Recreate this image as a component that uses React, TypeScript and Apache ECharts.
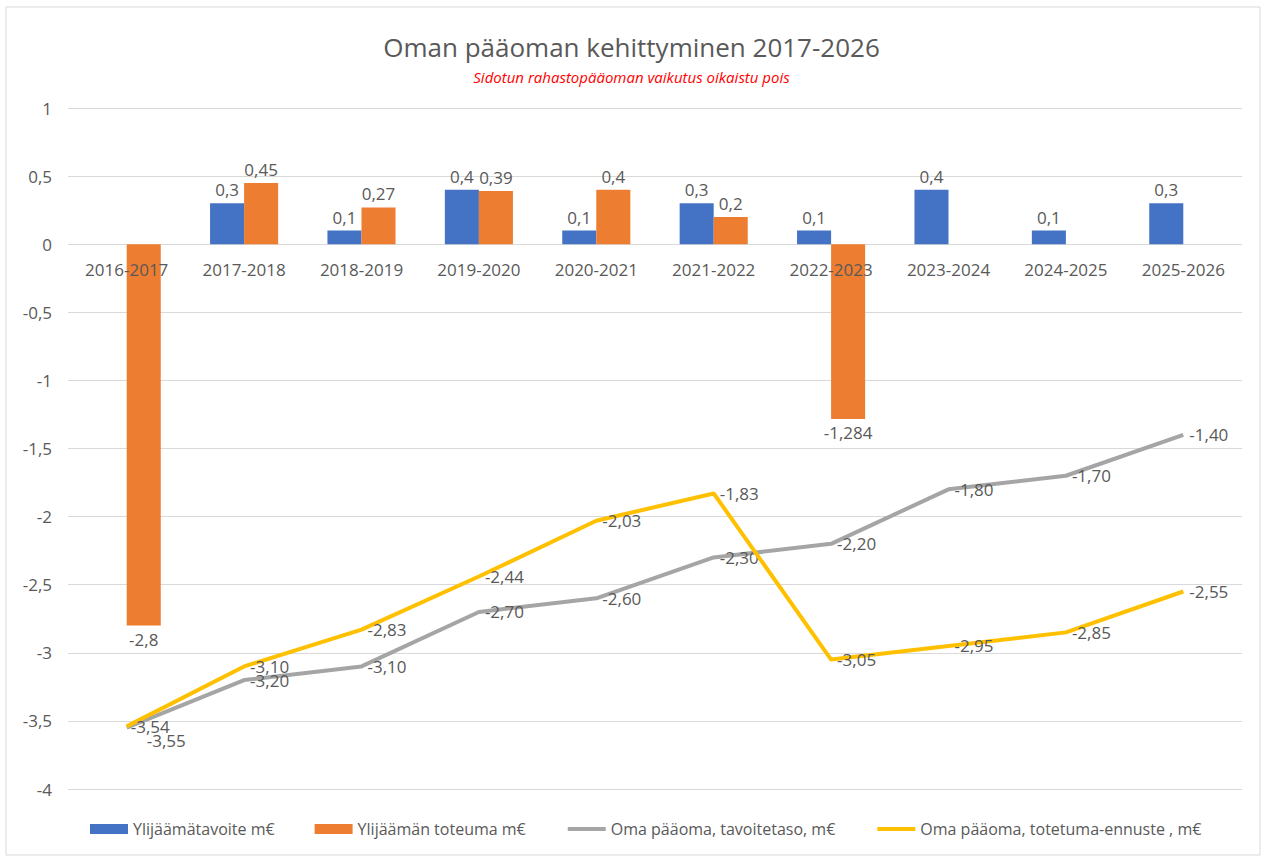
import React, { useEffect, useRef } from "react";
import * as echarts from "echarts";

const categories = [
  "2016-2017", "2017-2018", "2018-2019", "2019-2020", "2020-2021",
  "2021-2022", "2022-2023", "2023-2024", "2024-2025", "2025-2026",
];
const targetSurplus: (number | null)[] = [null, 0.3, 0.1, 0.4, 0.1, 0.3, 0.1, 0.4, 0.1, 0.3];
const actualSurplus: (number | null)[] = [-2.8, 0.45, 0.27, 0.39, 0.4, 0.2, -1.284, null, null, null];
const equityTarget = [-3.55, -3.2, -3.1, -2.7, -2.6, -2.3, -2.2, -1.8, -1.7, -1.4];
const equityForecast = [-3.54, -3.1, -2.83, -2.44, -2.03, -1.83, -3.05, -2.95, -2.85, -2.55];
const categoryLabelBase = categories.map(() => 0);

const seriesNames = [
  "Ylijäämätavoite m€",
  "Ylijäämän toteuma m€",
  "Oma pääoma, tavoitetaso, m€",
  "Oma pääoma, totetuma-ennuste , m€",
];

const comma = (v: number) => String(v).replace(".", ",");
const comma2 = (v: number) => v.toFixed(2).replace(".", ",");

const TEXT = "#595959";
const FONT = "Open Sans";
const FS = 17;

export default function App() {
  const ref = useRef<HTMLDivElement>(null);
  useEffect(() => {
    const chart = echarts.init(ref.current!, null, { renderer: "svg" });
    const barLabel = {
      show: true,
      position: "outside" as any,
      color: TEXT,
      fontSize: FS,
      fontFamily: FONT,
      distance: 5,
      formatter: (p: any) => comma(p.value),
    };
    const lineLabel = {
      show: true,
      position: "right" as any,
      distance: 6,
      color: TEXT,
      fontSize: FS,
      fontFamily: FONT,
      formatter: (p: any) => comma2(p.value),
    };
    const targetData = equityTarget.map((v, i) =>
      i === 0 ? { value: v, label: { offset: [14, 13] } } : v
    );
    const forecastData = equityForecast.map((v, i) =>
      i === 0 ? { value: v, label: { offset: [-2, 0] } } : v
    );
    chart.setOption({
      animation: false,
      backgroundColor: "#ffffff",
      textStyle: { fontFamily: FONT },
      graphic: [
        {
          type: "rect",
          shape: { x: 6, y: 7, width: 1254, height: 848 },
          style: { fill: "none", stroke: "#D9D9D9", lineWidth: 1 },
          silent: true,
        },
      ],
      title: [
        {
          text: "Oman pääoman kehittyminen 2017-2026",
          left: "center",
          top: 29,
          textStyle: { color: TEXT, fontSize: 26, fontWeight: "normal", fontFamily: FONT },
        },
        {
          text: "Sidotun rahastopääoman vaikutus oikaistu pois",
          left: "center",
          top: 64,
          textStyle: { color: "#FF0000", fontSize: 15, fontStyle: "italic", fontWeight: "normal", fontFamily: FONT },
        },
      ],
      legend: {
        bottom: 16,
        left: 85,
        itemGap: 40,
        itemWidth: 38,
        itemHeight: 10,
        textStyle: { color: TEXT, fontSize: 16, fontFamily: FONT },
        data: [
          { name: seriesNames[0], icon: "rect", itemStyle: { color: "#4472C4" } },
          { name: seriesNames[1], icon: "rect", itemStyle: { color: "#ED7D31" } },
          { name: seriesNames[2], itemStyle: { opacity: 0 }, lineStyle: { width: 4 } },
          { name: seriesNames[3], itemStyle: { opacity: 0 }, lineStyle: { width: 4 } },
        ],
      },
      grid: { left: 68, right: 21, top: 108, bottom: 69, containLabel: false },
      xAxis: {
        type: "category",
        data: categories,
        axisLine: { show: false },
        axisTick: { show: false },
        axisLabel: { show: false },
      },
      yAxis: {
        type: "value",
        min: -4,
        max: 1,
        interval: 0.5,
        axisLine: { show: false },
        axisTick: { show: false },
        splitLine: { lineStyle: { color: "#D9D9D9", width: 1 } },
        axisLabel: {
          color: TEXT,
          fontSize: FS,
          fontFamily: FONT,
          margin: 16,
          formatter: (v: number) => comma(Math.round(v * 10) / 10),
        },
      },
      series: [
        {
          name: seriesNames[0],
          type: "bar",
          data: targetSurplus,
          itemStyle: { color: "#4472C4" },
          barGap: "0%",
          barCategoryGap: "42%",
          label: barLabel,
        },
        {
          name: seriesNames[1],
          type: "bar",
          data: actualSurplus,
          itemStyle: { color: "#ED7D31" },
          label: barLabel,
        },
        {
          name: seriesNames[2],
          type: "line",
          data: targetData,
          symbol: "circle",
          symbolSize: 0,
          lineStyle: { color: "#A5A5A5", width: 4 },
          itemStyle: { color: "#A5A5A5" },
          label: lineLabel,
          z: 4,
        },
        {
          name: seriesNames[3],
          type: "line",
          data: forecastData,
          symbol: "circle",
          symbolSize: 0,
          lineStyle: { color: "#FFC000", width: 4 },
          itemStyle: { color: "#FFC000" },
          label: lineLabel,
          z: 5,
        },
        {
          name: "categoryLabels",
          type: "line",
          data: categoryLabelBase,
          symbol: "circle",
          symbolSize: 0,
          lineStyle: { width: 0, color: "transparent" },
          itemStyle: { color: "transparent" },
          silent: true,
          z: 6,
          label: {
            show: true,
            position: "bottom",
            distance: 17,
            color: TEXT,
            fontSize: FS,
            fontFamily: FONT,
            formatter: (p: any) => categories[p.dataIndex],
          },
        },
      ],
    });
    return () => chart.dispose();
  }, []);
  return (
    <div
      ref={ref}
      style={{ position: "fixed", left: 0, top: 0, width: 1263, height: 858 }}
    />
  );
}
